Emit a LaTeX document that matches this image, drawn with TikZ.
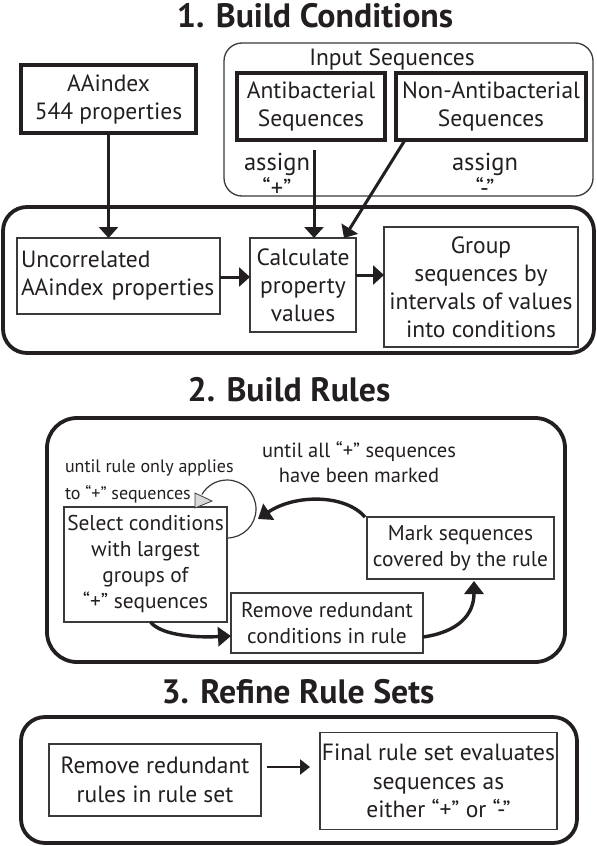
\documentclass[tikz,border=0pt]{standalone}
\usepackage{fontspec}
\setmainfont{PT Sans}
\usetikzlibrary{arrows.meta}
\definecolor{ink}{HTML}{231F20}
\definecolor{thinline}{HTML}{3A3A3A}
\definecolor{headgray}{HTML}{D9D9D9}
\begin{document}
\begin{tikzpicture}[x=1pt,y=-1pt,
  every node/.style={text=ink, inner sep=0pt, outer sep=0pt},
  titlefont/.style={font=\fontsize{33.8}{34}\selectfont\bfseries},
  bigtext/.style={font=\fontsize{23.5}{28}\selectfont, align=center},
  midtext/.style={font=\fontsize{21.4}{26}\selectfont, align=center},
  heavybox/.style={draw=ink, line width=3.8pt, rectangle},
  lightbox/.style={draw=thinline, line width=1.4pt, rectangle},
  section/.style={draw=ink, line width=3.8pt, rectangle, rounded corners=24pt},
  inputframe/.style={draw=thinline, line width=1.3pt, rectangle, rounded corners=18pt},
  arr/.style={draw=ink, line width=3pt, -{Triangle[length=11pt,width=19pt]}},
  carr/.style={draw=ink, line width=3.4pt, -{Triangle[length=13pt,width=19pt]}},
  sarr/.style={draw=ink, line width=2.6pt, -{Triangle[length=10pt,width=15pt]}}
]
\useasboundingbox (0,0) rectangle (597,846);
\fill[white] (0,0) rectangle (597,846);

% ---------- Section 1 ----------
\node[titlefont] (t1) at (315,16) {1. Build Conditions};

\node[inputframe, minimum width=369pt, minimum height=153pt] (inbox) at (408.5,119.5) {};
\node[bigtext, anchor=base] (inlab) at (392,65) {Input Sequences};

\node[heavybox, bigtext, minimum width=175pt, minimum height=68pt] (aa) at (108.5,99) {AAindex\\544 properties};
\node[heavybox, bigtext, minimum width=148pt, minimum height=67pt] (anti) at (311,106.5) {Antibacterial\\Sequences};
\node[heavybox, bigtext, minimum width=190pt, minimum height=67pt] (non) at (491,106.5) {Non-Antibacterial\\Sequences};

\node[align=center, font=\fontsize{24.5}{26}\selectfont] (as1) at (277,175) {assign\\“+”};
\node[align=center, font=\fontsize{24.5}{26}\selectfont] (as2) at (485,175) {assign\\“-”};

\node[section, minimum width=591pt, minimum height=146pt] (sec1) at (298.5,280) {};

\node[lightbox, font=\fontsize{23.5}{28}\selectfont, align=left, minimum width=203pt, minimum height=76pt, text width=195pt] (unc) at (118.5,276) {Uncorrelated\\AAindex properties};
\node[lightbox, bigtext, minimum width=106pt, minimum height=94pt] (calc) at (303,285) {Calculate\\property\\values};
\node[lightbox, bigtext, minimum width=194pt, minimum height=120pt] (grp) at (481,287) {Group\\sequences by\\intervals of values\\into conditions};

\coordinate (antiout) at (314,150);
\draw[arr] (aa.south) -- (aa.south |- unc.north);
\draw[arr] (antiout) -- (antiout |- calc.north);
\draw[arr] ([xshift=9pt]non.south west) -- ([xshift=-12pt]calc.north east);
\draw[arr] (unc.east |- 0,277) -- (calc.west |- 0,277);
\draw[arr] (calc.east |- 0,275) -- (grp.west |- 0,275);

% ---------- Section 2 ----------
\node[titlefont] (t2) at (289,390) {2. Build Rules};
\node[section, rounded corners=30pt, minimum width=518pt, minimum height=244pt] (sec2) at (306,540) {};

\node[font=\fontsize{18}{27}\selectfont, align=left, anchor=west] (lab1) at (65,481) {until rule only applies\\to “+” sequences};
\node[font=\fontsize{20.5}{25}\selectfont, align=center] (lab2) at (359,462) {until all “+” sequences\\have been marked};

\node[lightbox, midtext, minimum width=163pt, minimum height=115pt] (sel) at (145.5,564.5) {Select conditions\\with largest\\groups of\\“+” sequences};
\node[lightbox, midtext, minimum width=192pt, minimum height=60pt] (rem) at (327,623) {Remove redundant\\conditions in rule};
\node[lightbox, midtext, minimum width=187pt, minimum height=62pt] (mark) at (460.5,548) {Mark sequences\\covered by the rule};

% self loop (canvas angles: 270 = bottom)
\draw[thinline, line width=1.2pt] (sel.east |- 0,538) arc[start angle=-90, end angle=150, radius=29pt];
\filldraw[fill=headgray, draw=thinline, line width=0.8pt] (195,493) -- (212,501) -- (195,508) -- cycle;

\draw[carr] ([xshift=5pt]sel.south) .. controls (160,634) and (190,638) .. (rem.west |- 0,636);
\draw[carr] (rem.east |- 0,637) .. controls (458,632) and (474,615) .. ([xshift=13.5pt,yshift=-2pt]mark.south);
\draw[carr] ([xshift=-2pt]mark.north west) .. controls (345,494) and (295,494) .. (258,519);

% ---------- Section 3 ----------
\node[titlefont] (t3) at (298,692) {3. Refine Rule Sets};
\node[section, minimum width=556pt, minimum height=126pt] (sec3) at (299,780) {};

\node[lightbox, font=\fontsize{23.5}{29}\selectfont, align=center, minimum width=212pt, minimum height=72pt] (rem3) at (155,780) {Remove redundant\\rules in rule set};
\node[lightbox, font=\fontsize{23.5}{28.5}\selectfont, align=center, minimum width=237pt, minimum height=97pt] (fin) at (438.5,781) {Final rule set evaluates\\sequences as\\either “+” or “-”};

\draw[sarr] ([xshift=6pt]rem3.east |- 0,767) -- ([xshift=-10pt]fin.west |- 0,767);
\end{tikzpicture}
\end{document}
